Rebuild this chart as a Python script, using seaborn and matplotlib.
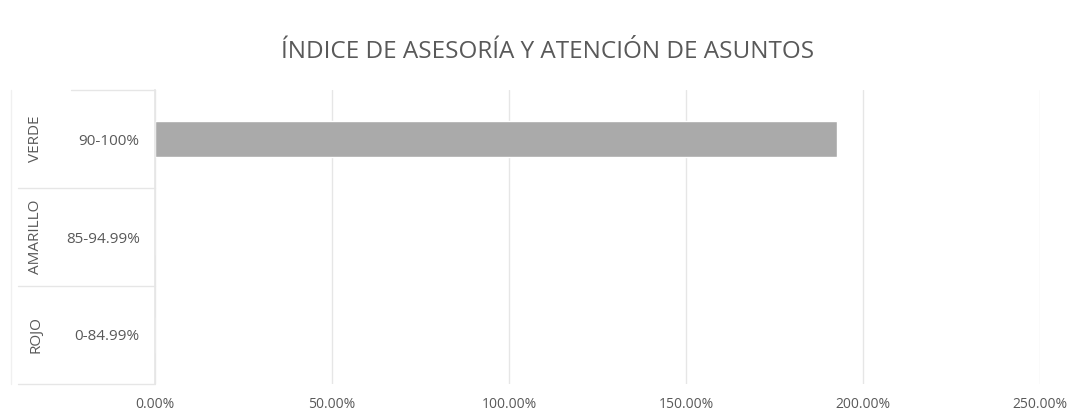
import matplotlib
matplotlib.use("Agg")
import matplotlib.pyplot as plt
import matplotlib.transforms as mtransforms
import seaborn as sns
import pandas as pd
from matplotlib.ticker import FuncFormatter

# data
rangos = ['90-100%', '85-94.99%', '0-84.99%']
semaforo = ['VERDE', 'AMARILLO', 'ROJO']
valores = [192.6, 0, 0]
xticks = [0, 50, 100, 150, 200, 250]
titulo = 'ÍNDICE DE ASESORÍA Y ATENCIÓN DE ASUNTOS'

df = pd.DataFrame({'rango': rangos, 'valor': valores})

sns.set_theme(style="white")
plt.rcParams['font.family'] = ['Open Sans', 'DejaVu Sans']
txt = '#595959'
grid = '#e6e6e6'

fig = plt.figure(figsize=(10.85, 4.17), dpi=100)
ax = fig.add_axes([155/1085, 1 - 384/417, 885/1085, 294/417])

sns.barplot(data=df, x='valor', y='rango', order=rangos, color='#aaaaaa',
            width=0.37, orient='h', ax=ax, saturation=1)

ax.set_xlim(0, 250)
ax.set_ylim(2.5, -0.5)
ax.set_xticks(xticks)
ax.xaxis.set_major_formatter(FuncFormatter(lambda v, p: f'{v:.2f}%'))
ax.grid(axis='x', color=grid, linewidth=1)
ax.set_axisbelow(True)
for s in ['top', 'right', 'bottom']:
    ax.spines[s].set_visible(False)
ax.spines['left'].set_color(grid)
ax.set_xlabel('')
ax.set_ylabel('')
ax.tick_params(axis='x', length=0, pad=9, labelsize=10, labelcolor=txt)
ax.tick_params(axis='y', length=0, pad=11, labelsize=11, labelcolor=txt)

# second category level (rotated) and row separators
trans = mtransforms.blended_transform_factory(ax.transAxes, ax.transData)
for i, nombre in enumerate(semaforo):
    ax.text(-0.135, i, nombre, rotation=90, ha='center', va='center',
            fontsize=11, color=txt, transform=trans)
ax.plot([-0.095, 0], [-0.5, -0.5], color=grid, linewidth=1,
        transform=trans, clip_on=False)
for y in [0.5, 1.5, 2.5]:
    ax.plot([-0.155, 0], [y, y], color=grid, linewidth=1,
            transform=trans, clip_on=False)
ax.plot([-0.163, -0.163], [-0.5, 2.5], color='#f0f0f0', linewidth=1,
        transform=trans, clip_on=False)

fig.text(548/1085, 1 - 52/417, titulo, ha='center', va='center',
         fontsize=17.5, color=txt)

fig.savefig('out.png', dpi=100)
